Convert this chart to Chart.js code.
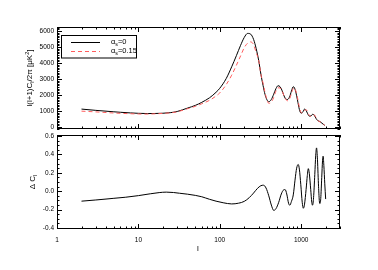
<!DOCTYPE html>
<html>
<head>
<meta charset="utf-8">
<script src="https://cdn.jsdelivr.net/npm/chart.js@4.4.0/dist/chart.umd.min.js"></script>
<style>
  body { margin: 0; background: #fff; }
  #wrap { position: relative; width: 378px; height: 270px; }
  canvas { position: absolute; left: 0; top: 0; }
</style>
</head>
<body>
<div id="wrap">
  <canvas id="top" width="378" height="270"></canvas>
  <canvas id="bottom" width="378" height="270"></canvas>
</div>
<script>
// multipoles for the upper panel
const ellSpectrum = [2, 3, 4, 5, 6, 8, 10, 13, 16, 20, 25, 30, 40, 50, 60, 75, 90, 100, 120, 140,
    160, 180, 200, 220, 240, 260, 280, 300, 320, 340, 360, 380, 400, 430, 460, 490, 520, 550, 580, 610,
    640, 680, 720, 760, 800, 830, 860, 900, 950, 1000, 1050, 1100, 1150, 1200, 1260, 1320, 1390, 1450, 1520, 1600,
    1700, 1800, 1900, 1950];

// l(l+1)C_l/2pi, no running (alpha_s = 0)
const clNoRunning = [1120, 1040, 990, 950, 920, 880, 855, 840, 845, 860, 900, 970, 1180, 1350, 1540, 1830, 2170, 2420, 3030, 3760,
    4460, 5100, 5600, 5850, 5800, 5480, 4900, 4180, 3300, 2600, 2030, 1700, 1580, 1720, 2050, 2400, 2580, 2520, 2300, 2000,
    1780, 1720, 1880, 2250, 2520, 2430, 2180, 1700, 1100, 860, 950, 1120, 1040, 830, 680, 690, 800, 730, 540, 400,
    340, 240, 140, 100];

// l(l+1)C_l/2pi, running alpha_s = 0.15
const clRunning = [990, 945, 905, 875, 855, 830, 815, 810, 825, 850, 890, 950, 1140, 1290, 1450, 1670, 1940, 2130, 2650, 3240,
    3860, 4440, 4960, 5240, 5320, 5150, 4650, 4200, 3300, 2750, 2150, 1700, 1480, 1560, 1850, 2250, 2450, 2440, 2280, 2000,
    1760, 1640, 1750, 2100, 2420, 2450, 2250, 1850, 1250, 900, 880, 1030, 1080, 950, 720, 650, 730, 760, 600, 420,
    320, 260, 150, 110];

// multipoles for the lower panel
const ellDelta = [2, 3, 4, 5, 7, 10, 14, 18, 22, 27, 32, 40, 50, 60, 75, 90, 110, 140, 170, 200,
    230, 260, 290, 320, 345, 370, 400, 430, 460, 490, 530, 570, 610, 635, 665, 700, 725, 760, 800, 840,
    880, 920, 950, 990, 1030, 1065, 1100, 1150, 1190, 1225, 1260, 1310, 1350, 1380, 1420, 1470, 1510, 1545, 1580, 1630,
    1670, 1700, 1740, 1790, 1830, 1860, 1900, 1950, 2000];

// relative difference Delta C_l
const deltaCl = [-0.108, -0.095, -0.085, -0.077, -0.065, -0.048, -0.028, -0.015, -0.01, -0.014, -0.022, -0.032, -0.045, -0.06, -0.088, -0.108, -0.125, -0.138, -0.13, -0.11,
    -0.07, -0.02, 0.03, 0.06, 0.065, 0.035, -0.05, -0.15, -0.208, -0.19, -0.12, -0.03, 0.015, 0.018, -0.03, -0.13, -0.152, -0.11, -0.04, 0.12,
    0.25, 0.29, 0.24, 0.07, -0.12, -0.185, -0.14, 0.02, 0.17, 0.245, 0.19, 0.02, -0.12, -0.152, -0.07, 0.18, 0.39, 0.47, 0.37, 0.08,
    -0.1, -0.134, -0.08, 0.15, 0.33, 0.38, 0.28, 0.08, -0.085];

const xTickValues = [1, 10, 100, 1000];
const yTicksTop = [0, 1000, 2000, 3000, 4000, 5000, 6000];
const yTicksBottom = [-0.4, -0.2, 0, 0.2, 0.4, 0.6];
const runningValues = ['0', '0.15'];

const FONT = '"Liberation Sans", Arial, sans-serif';
const RED = '#ff5c5c';

// draws text made of pieces, some of them sub- or superscript
function richText(ctx, parts, x, y, size, angle, align) {
    ctx.save();
    ctx.translate(x, y);
    ctx.rotate(angle || 0);
    ctx.textBaseline = 'middle';
    ctx.fillStyle = '#000';
    const fontOf = p => (p[1] ? size * 0.7 : size) + 'px ' + FONT;
    let total = 0;
    parts.forEach(p => { ctx.font = fontOf(p); total += ctx.measureText(p[0]).width; });
    let cx = align === 'left' ? 0 : -total / 2;
    parts.forEach(p => {
        ctx.font = fontOf(p);
        const dy = p[1] === -1 ? size * 0.3 : (p[1] === 1 ? -size * 0.35 : 0);
        ctx.fillText(p[0], cx, dy);
        cx += ctx.measureText(p[0]).width;
    });
    ctx.restore();
}

// frame around the plot area with inward ticks on all four sides
function drawFrame(chart, minorStep, majorEvery) {
    const ctx = chart.ctx, a = chart.chartArea;
    const xs = chart.scales.x, ys = chart.scales.y;
    ctx.save();
    ctx.strokeStyle = '#000';
    ctx.lineWidth = 1;
    ctx.strokeRect(a.left + 0.5, a.top + 0.5, a.right - a.left - 1, a.bottom - a.top - 1);
    ctx.beginPath();
    for (let d = 1; d <= 1000; d *= 10) {
        for (let m = 1; m <= 9; m++) {
            const v = d * m;
            if (v > xs.max) break;
            const px = Math.round(xs.getPixelForValue(v)) + 0.5;
            const len = m === 1 ? 5 : 2.5;
            ctx.moveTo(px, a.bottom); ctx.lineTo(px, a.bottom - len);
            ctx.moveTo(px, a.top); ctx.lineTo(px, a.top + len);
        }
    }
    const k0 = Math.ceil(ys.min / minorStep - 1e-6), k1 = Math.floor(ys.max / minorStep + 1e-6);
    for (let k = k0; k <= k1; k++) {
        const py = Math.round(ys.getPixelForValue(k * minorStep)) + 0.5;
        const len = k % majorEvery === 0 ? 5 : 2.5;
        ctx.moveTo(a.left, py); ctx.lineTo(a.left + len, py);
        ctx.moveTo(a.right, py); ctx.lineTo(a.right - len, py);
    }
    ctx.stroke();
    ctx.restore();
}

const topDecor = {
    id: 'topDecor',
    afterDraw(chart) {
        const ctx = chart.ctx;
        drawFrame(chart, 100, 10);
        richText(ctx, [['l(l+1)C', 0], ['l', -1], ['/2\u03c0 [\u03bcK', 0], ['2', 1], [']', 0]], 30, 78, 8, -Math.PI / 2);
        // legend box
        ctx.save();
        ctx.strokeStyle = '#000';
        ctx.lineWidth = 1;
        ctx.strokeRect(61.5, 35.5, 75, 22.5);
        ctx.beginPath();
        ctx.moveTo(71, 42.5); ctx.lineTo(100, 42.5);
        ctx.stroke();
        ctx.strokeStyle = RED;
        ctx.setLineDash([4, 3]);
        ctx.beginPath();
        ctx.moveTo(71, 51.5); ctx.lineTo(100, 51.5);
        ctx.stroke();
        ctx.restore();
        richText(ctx, [['\u03b1', 0], ['s', -1], ['=' + runningValues[0], 0]], 111, 42, 7.5, 0, 'left');
        richText(ctx, [['\u03b1', 0], ['s', -1], ['=' + runningValues[1], 0]], 111, 51, 7.5, 0, 'left');
    }
};

const bottomDecor = {
    id: 'bottomDecor',
    afterDraw(chart) {
        drawFrame(chart, 0.05, 4);
        richText(chart.ctx, [['\u0394 C', 0], ['l', -1]], 33, 182, 8, -Math.PI / 2);
        richText(chart.ctx, [['l', 0]], 198, 249, 8, 0);
    }
};

const tickFont = { family: FONT, size: 6.5 };

// upper panel: the two spectra
new Chart(document.getElementById('top'), {
    type: 'line',
    data: {
        datasets: [
            {
                label: 'alpha_s=0',
                data: ellSpectrum.map((l, i) => ({ x: l, y: clNoRunning[i] })),
                borderColor: '#000',
                borderWidth: 1,
                pointRadius: 0,
                cubicInterpolationMode: 'monotone',
                order: 2
            },
            {
                label: 'alpha_s=0.15',
                data: ellSpectrum.map((l, i) => ({ x: l, y: clRunning[i] })),
                borderColor: RED,
                borderWidth: 1,
                borderDash: [4, 3],
                pointRadius: 0,
                cubicInterpolationMode: 'monotone',
                order: 1
            }
        ]
    },
    options: {
        responsive: false,
        animation: false,
        layout: { padding: { left: 20, top: 27, right: 38, bottom: 141 } },
        plugins: { legend: { display: false }, tooltip: { enabled: false } },
        scales: {
            x: {
                type: 'logarithmic', min: 1, max: 3000,
                ticks: { display: false },
                grid: { display: false, drawTicks: false },
                border: { display: false },
                afterFit: s => { s.height = 0; }
            },
            y: {
                min: -125, max: 6250,
                afterBuildTicks: s => { s.ticks = yTicksTop.map(v => ({ value: v })); },
                ticks: { font: tickFont, color: '#000', padding: 3, autoSkip: false, callback: v => String(v) },
                grid: { display: false, drawTicks: false },
                border: { display: false },
                afterFit: s => { s.width = 37; }
            }
        }
    },
    plugins: [topDecor]
});

// lower panel: relative difference
new Chart(document.getElementById('bottom'), {
    type: 'line',
    data: {
        datasets: [{
            label: 'Delta C_l',
            data: ellDelta.map((l, i) => ({ x: l, y: deltaCl[i] })),
            borderColor: '#000',
            borderWidth: 1,
            pointRadius: 0,
            cubicInterpolationMode: 'monotone'
        }]
    },
    options: {
        responsive: false,
        animation: false,
        layout: { padding: { left: 20, top: 135, right: 38, bottom: 11 } },
        plugins: { legend: { display: false }, tooltip: { enabled: false } },
        scales: {
            x: {
                type: 'logarithmic', min: 1, max: 3000,
                afterBuildTicks: s => { s.ticks = xTickValues.map(v => ({ value: v })); },
                ticks: { font: tickFont, color: '#000', padding: 7, autoSkip: false, maxRotation: 0, callback: v => String(v) },
                grid: { display: false, drawTicks: false },
                border: { display: false },
                afterFit: s => { s.height = 30; }
            },
            y: {
                min: -0.41, max: 0.61,
                afterBuildTicks: s => { s.ticks = yTicksBottom.map(v => ({ value: v })); },
                ticks: { font: tickFont, color: '#000', padding: 3, autoSkip: false, callback: v => v.toFixed(1) },
                grid: { display: false, drawTicks: false },
                border: { display: false },
                afterFit: s => { s.width = 37; }
            }
        }
    },
    plugins: [bottomDecor]
});
</script>
</body>
</html>
